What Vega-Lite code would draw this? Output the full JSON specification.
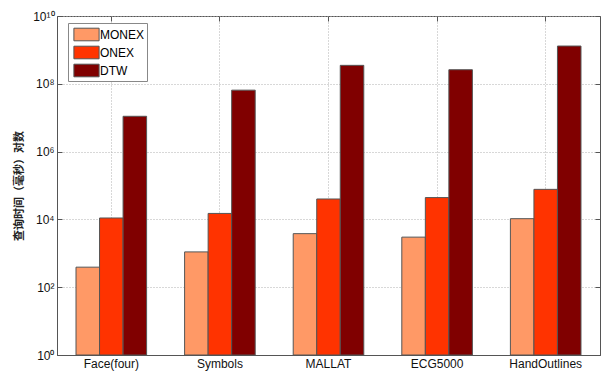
{
  "$schema": "https://vega.github.io/schema/vega-lite/v6.json",
  "width": 543,
  "height": 339,
  "autosize": {"type": "none"},
  "padding": {"left": 57, "top": 16, "right": 5, "bottom": 19},
  "background": "white",
  "config": {
    "view": {"stroke": "#555", "strokeWidth": 1},
    "font": "Liberation Sans",
    "axis": {
      "labelFont": "Liberation Sans",
      "labelFontSize": 12,
      "labelColor": "#111",
      "domainColor": "#555",
      "tickColor": "#555",
      "gridColor": "#b0b0b0",
      "gridDash": [1, 2],
      "tickSize": -5
    }
  },
  "data": {
    "values": [
      {"dataset": "Face(four)", "method": "MONEX", "time": 390},
      {"dataset": "Face(four)", "method": "ONEX", "time": 11000},
      {"dataset": "Face(four)", "method": "DTW", "time": 11000000},
      {"dataset": "Symbols", "method": "MONEX", "time": 1100},
      {"dataset": "Symbols", "method": "ONEX", "time": 15000},
      {"dataset": "Symbols", "method": "DTW", "time": 65000000},
      {"dataset": "MALLAT", "method": "MONEX", "time": 3800},
      {"dataset": "MALLAT", "method": "ONEX", "time": 40000},
      {"dataset": "MALLAT", "method": "DTW", "time": 350000000},
      {"dataset": "ECG5000", "method": "MONEX", "time": 3000},
      {"dataset": "ECG5000", "method": "ONEX", "time": 44000},
      {"dataset": "ECG5000", "method": "DTW", "time": 260000000},
      {"dataset": "HandOutlines", "method": "MONEX", "time": 10500},
      {"dataset": "HandOutlines", "method": "ONEX", "time": 77000},
      {"dataset": "HandOutlines", "method": "DTW", "time": 1300000000}
    ]
  },
  "layer": [
    {
      "mark": {"type": "bar", "stroke": "#555", "strokeWidth": 1},
      "encoding": {
        "x": {
          "field": "dataset",
          "type": "nominal",
          "sort": ["Face(four)", "Symbols", "MALLAT", "ECG5000", "HandOutlines"],
          "scale": {"paddingInner": 0.35, "paddingOuter": 0.175},
          "axis": {"title": null, "labelAngle": 0, "grid": true, "bandPosition": 0.5, "orient": "bottom", "labelPadding": 8}
        },
        "xOffset": {
          "field": "method",
          "type": "nominal",
          "sort": ["MONEX", "ONEX", "DTW"],
          "scale": {"paddingInner": 0, "paddingOuter": 0}
        },
        "y": {
          "field": "time",
          "type": "quantitative",
          "scale": {"type": "log", "domain": [1, 10000000000], "nice": false},
          "axis": {
            "values": [1, 100, 10000, 1000000, 100000000, 10000000000],
            "labelExpr": "datum.value == 1 ? '10⁰' : datum.value == 100 ? '10²' : datum.value == 10000 ? '10⁴' : datum.value == 1000000 ? '10⁶' : datum.value == 100000000 ? '10⁸' : '10¹⁰'",
            "grid": true,
            "labelPadding": 8,
            "title": "查询时间（毫秒）对数",
            "titleFont": "Noto Sans CJK SC",
            "titleFontSize": 11,
            "titleFontWeight": "bold",
            "titleColor": "#222",
            "titleX": -38,
            "titleY": 169.5,
            "titleAngle": -90,
            "titleAlign": "center",
            "titleBaseline": "middle"
          }
        },
        "y2": {"datum": 1},
        "color": {
          "field": "method",
          "type": "nominal",
          "sort": ["MONEX", "ONEX", "DTW"],
          "scale": {"domain": ["MONEX", "ONEX", "DTW"], "range": ["#ff9966", "#ff3300", "#800000"]},
          "legend": {
            "title": null,
            "orient": "none",
            "legendX": 11,
            "legendY": 7,
            "symbolType": "M-1.4,-0.7H1.4V0.7H-1.4Z",
            "symbolSize": 324,
            "symbolStrokeColor": "#555",
            "symbolStrokeWidth": 1,
            "symbolOpacity": 1,
            "labelFontSize": 12,
            "labelFont": "Liberation Sans",
            "labelColor": "#000",
            "strokeColor": "#888",
            "fillColor": "white",
            "padding": 2,
            "symbolOffset": 7,
            "labelOffset": 4,
            "rowPadding": 0
          }
        }
      }
    },
    {
      "mark": {"type": "bar", "opacity": 0},
      "encoding": {
        "x": {
          "field": "dataset",
          "type": "nominal",
          "sort": ["Face(four)", "Symbols", "MALLAT", "ECG5000", "HandOutlines"],
          "axis": {"title": null, "labels": false, "grid": false, "bandPosition": 0.5, "orient": "top", "domain": false}
        },
        "xOffset": {"field": "method", "type": "nominal", "sort": ["MONEX", "ONEX", "DTW"]},
        "y": {
          "field": "time",
          "type": "quantitative",
          "axis": {"values": [1, 100, 10000, 1000000, 100000000, 10000000000], "labels": false, "grid": false, "title": null, "orient": "right", "domain": false}
        },
        "y2": {"datum": 1}
      }
    }
  ],
  "resolve": {"axis": {"x": "independent", "y": "independent"}}
}
